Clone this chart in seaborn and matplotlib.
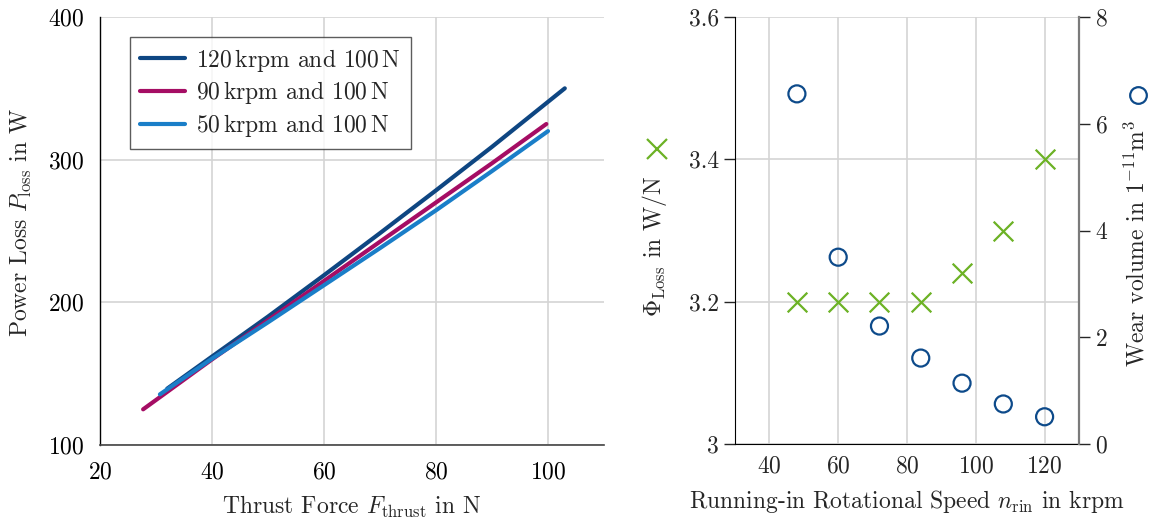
import numpy as np
import pandas as pd
import matplotlib
matplotlib.use("Agg")
import matplotlib.pyplot as plt
from matplotlib.lines import Line2D
import seaborn as sns

# --- Power loss over thrust force (left panel) ---
force_120 = [32, 40, 50, 60, 70, 80, 90, 103]
loss_120 = [139.5, 162, 190, 219, 248.5, 278.5, 309, 350]
force_90 = [27.7, 40, 50, 60, 70, 80, 90, 99.7]
loss_90 = [125, 160, 187.5, 215, 242.5, 270, 297.5, 325]
force_50 = [30.7, 40, 50, 60, 70, 80, 90, 100]
loss_50 = [135.5, 160.5, 186, 212, 238, 264.5, 292, 320]
series_labels = [r"120$\,$krpm and 100$\,$N",
                 r"90$\,$krpm and 100$\,$N",
                 r"50$\,$krpm and 100$\,$N"]

# --- Running-in results (right panel) ---
speed_rin = [48, 60, 72, 84, 96, 108, 120]
phi_loss = [3.20, 3.20, 3.20, 3.20, 3.24, 3.30, 3.40]
wear_volume = [6.56, 3.50, 2.21, 1.61, 1.14, 0.75, 0.51]

c_dark = "#0e4682"
c_mag = "#a50d64"
c_light = "#1a7ec8"
c_green = "#6cb225"
c_circ = "#0d4a8a"
grid_c = "#d4d4d4"

sns.set_style("white")
plt.rcParams["font.family"] = ["cmr10", "DejaVu Serif"]
plt.rcParams["mathtext.fontset"] = "cm"
plt.rcParams["axes.formatter.use_mathtext"] = True
plt.rcParams["axes.unicode_minus"] = False

FS = 17

fig = plt.figure(figsize=(11.5, 5.25), dpi=100)
ax1 = fig.add_axes([100/1150, 1-445/525, 504/1150, 428/525])
ax2 = fig.add_axes([735/1150, 1-444/525, 344/1150, 427/525])

# Left panel: one line per speed/load setting
df = pd.concat([
    pd.DataFrame({"F": force_120, "P": loss_120, "s": series_labels[0]}),
    pd.DataFrame({"F": force_90, "P": loss_90, "s": series_labels[1]}),
    pd.DataFrame({"F": force_50, "P": loss_50, "s": series_labels[2]}),
])
sns.lineplot(data=df, x="F", y="P", hue="s", hue_order=series_labels,
             palette=[c_dark, c_mag, c_light], linewidth=3.0, sort=False,
             estimator=None, ax=ax1, legend=False)
ax1.set_xlim(20, 110)
ax1.set_ylim(100, 400)
ax1.set_xticks([20, 40, 60, 80, 100])
ax1.set_yticks([100, 200, 300, 400])
ax1.grid(True, color=grid_c, linewidth=1.2)
ax1.set_axisbelow(True)
for s in ["top", "right"]:
    ax1.spines[s].set_visible(False)
ax1.spines["left"].set_color("black")
ax1.spines["bottom"].set_color("#444444")
ax1.spines["left"].set_linewidth(1.0)
ax1.spines["bottom"].set_linewidth(1.2)
ax1.tick_params(direction="out", length=8, width=1, labelsize=FS, colors="black")
ax1.set_xlabel(r"Thrust Force $F_\mathrm{thrust}$ in N", fontsize=FS, labelpad=8)
ax1.set_ylabel(r"Power Loss $P_\mathrm{loss}$ in W", fontsize=FS, labelpad=10,
               y=0.52)
handles = [Line2D([], [], color=c, linewidth=3.0) for c in (c_dark, c_mag, c_light)]
leg = ax1.legend(handles, series_labels, loc="upper left",
                 bbox_to_anchor=(0.06, 0.953), borderaxespad=0, fontsize=FS,
                 frameon=True, fancybox=False, handlelength=1.9,
                 handletextpad=0.5, labelspacing=0.25, borderpad=0.4)
leg.get_frame().set_edgecolor("#333333")
leg.get_frame().set_linewidth(1.0)

# Right panel: loss coefficient (crosses) and wear volume (circles)
run_df = pd.DataFrame({"n": speed_rin, "phi": phi_loss, "wear": wear_volume})
sns.scatterplot(data=run_df, x="n", y="phi", marker="x", s=200, color=c_green,
                linewidth=1.6, ax=ax2, zorder=3)
ax2.set_xlim(30, 130)
ax2.set_ylim(3.0, 3.6)
ax2.set_xticks([40, 60, 80, 100, 120])
ax2.set_yticks([3.0, 3.2, 3.4, 3.6])
ax2.set_yticklabels(["3", "3.2", "3.4", "3.6"])
ax2.grid(True, color=grid_c, linewidth=1.2)
ax2.set_axisbelow(True)
ax2.spines["top"].set_visible(False)
ax2.spines["right"].set_visible(False)
ax2.spines["left"].set_color("black")
ax2.spines["bottom"].set_color("black")
ax2.tick_params(axis="y", direction="out", length=8, width=1, labelsize=FS)
ax2.tick_params(axis="x", length=0, labelsize=FS, pad=8)
ax2.set_xlabel(r"Running-in Rotational Speed $n_\mathrm{rin}$ in krpm",
               fontsize=FS, labelpad=8)
ax2.set_ylabel(r"$\Phi_\mathrm{Loss}$ in W/N", fontsize=FS, labelpad=14,
               y=0.4625)

ax3 = ax2.twinx()
sns.scatterplot(data=run_df, x="n", y="wear", marker="o", s=150,
                facecolor="none", edgecolor=c_circ, linewidth=1.6, ax=ax3,
                zorder=3)
ax3.set_ylim(0, 8)
ax3.set_yticks([0, 2, 4, 6, 8])
for s in ["top", "left", "bottom"]:
    ax3.spines[s].set_visible(False)
ax3.spines["right"].set_color("#7a7a7a")
ax3.spines["right"].set_linewidth(1.6)
ax3.tick_params(axis="y", direction="out", length=8, width=1, labelsize=FS)
ax3.set_ylabel(r"Wear volume in $1^{-11}\mathrm{m}^3$", fontsize=FS,
               labelpad=12, y=0.47)

# Symbol keys beside the two y-axis titles
fig.legend([Line2D([], [], linestyle="none", marker="x", markersize=14,
                   markeredgewidth=1.6, color=c_green)], [""],
           loc="center", bbox_to_anchor=(657/1150, 1-151/525), frameon=False,
           handlelength=1, handletextpad=0, borderpad=0)
fig.legend([Line2D([], [], linestyle="none", marker="o", markersize=12,
                   markeredgewidth=1.6, markerfacecolor="none",
                   markeredgecolor=c_circ)], [""],
           loc="center", bbox_to_anchor=(1138/1150, 1-97/525), frameon=False,
           handlelength=1, handletextpad=0, borderpad=0)

fig.savefig("out.png", dpi=100)
